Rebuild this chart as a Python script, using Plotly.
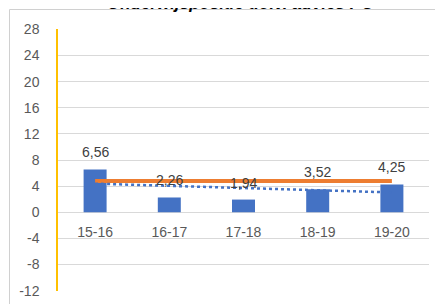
import numpy as np
import plotly.graph_objects as go

categories = ["15-16", "16-17", "17-18", "18-19", "19-20"]
values = [6.56, 2.26, 1.94, 3.52, 4.25]
reference = [4.8, 4.8, 4.8, 4.8, 4.8]
y_ticks = [-12, -8, -4, 0, 4, 8, 12, 16, 20, 24, 28]
y_tick_text = ["-12", "-8", "-4", "0", "4", "8", "12", "16", "20", "24", "28"]
title_text = "Onderwijspositie t.o.v. advies PO"

# linear trendline of the bar values (as the spreadsheet trendline)
idx = np.arange(1, len(values) + 1)
slope, intercept = np.polyfit(idx, values, 1)
trend = list(slope * idx + intercept)

FONT = "Liberation Sans"
# page body has an 8px margin, so the figure is sized to fill the rest
W, H = 435, 296
ml, mr, mt, mb = 50, 14, 21, 13
pw, ph = W - ml - mr, H - mt - mb

fig = go.Figure()
fig.add_trace(go.Bar(x=categories, y=values, marker_color="#4472C4",
                     marker_line_width=0, showlegend=False, hoverinfo="x+y"))
fig.add_trace(go.Scatter(x=categories, y=reference, mode="lines",
                         line=dict(color="#ED7D31", width=4), showlegend=False))
fig.add_trace(go.Scatter(x=categories, y=trend, mode="lines",
                         line=dict(color="#4472C4", width=2.5, dash="dot"),
                         showlegend=False))

for c, v in zip(categories, values):
    fig.add_annotation(x=c, y=v, text=("%.2f" % v).replace(".", ","),
                       showarrow=False, yanchor="middle", yshift=17,
                       font=dict(family=FONT, size=14, color="#404040"))

# chart area border (outer frame)
px = lambda x: (x - ml) / pw
py = lambda y: (H - mb - y) / ph
fig.add_shape(type="rect", xref="paper", yref="paper",
              x0=px(1.5), x1=px(470), y0=py(330), y1=py(1.5),
              line=dict(color="#D0D0D0", width=1), fillcolor="rgba(0,0,0,0)",
              layer="above")

# chart title (mostly above the visible window, as in the reference)
fig.add_annotation(text="<b><i>" + title_text + "</i></b>", xref="paper", yref="paper",
                   x=px(232), y=py(6.7), xanchor="center", yanchor="bottom",
                   showarrow=False, font=dict(family=FONT, size=17, color="#000000"))

fig.update_layout(
    width=W, height=H,
    margin=dict(l=ml, r=mr, t=mt, b=mb, autoexpand=False),
    paper_bgcolor="white", plot_bgcolor="white",
    separators=", ",
    bargap=0.69,
    font=dict(family=FONT, size=14, color="#595959"),
)
fig.update_yaxes(range=[-12.06, 28.06], tickvals=y_ticks, ticktext=y_tick_text,
                 showgrid=True, automargin=False,
                 gridcolor="#D9D9D9", gridwidth=1, zeroline=False,
                 showline=True, linecolor="#FFC000", linewidth=1.5,
                 ticks="", tickfont=dict(family=FONT, size=14, color="#595959"),
                 ticklabelstandoff=14)
fig.update_xaxes(anchor="free", position=12.06 / 40.12, showgrid=False, zeroline=False,
                 showline=False, ticks="", ticklabelstandoff=10, automargin=False,
                 tickfont=dict(family=FONT, size=14, color="#595959"))

fig.write_html("out.html")
